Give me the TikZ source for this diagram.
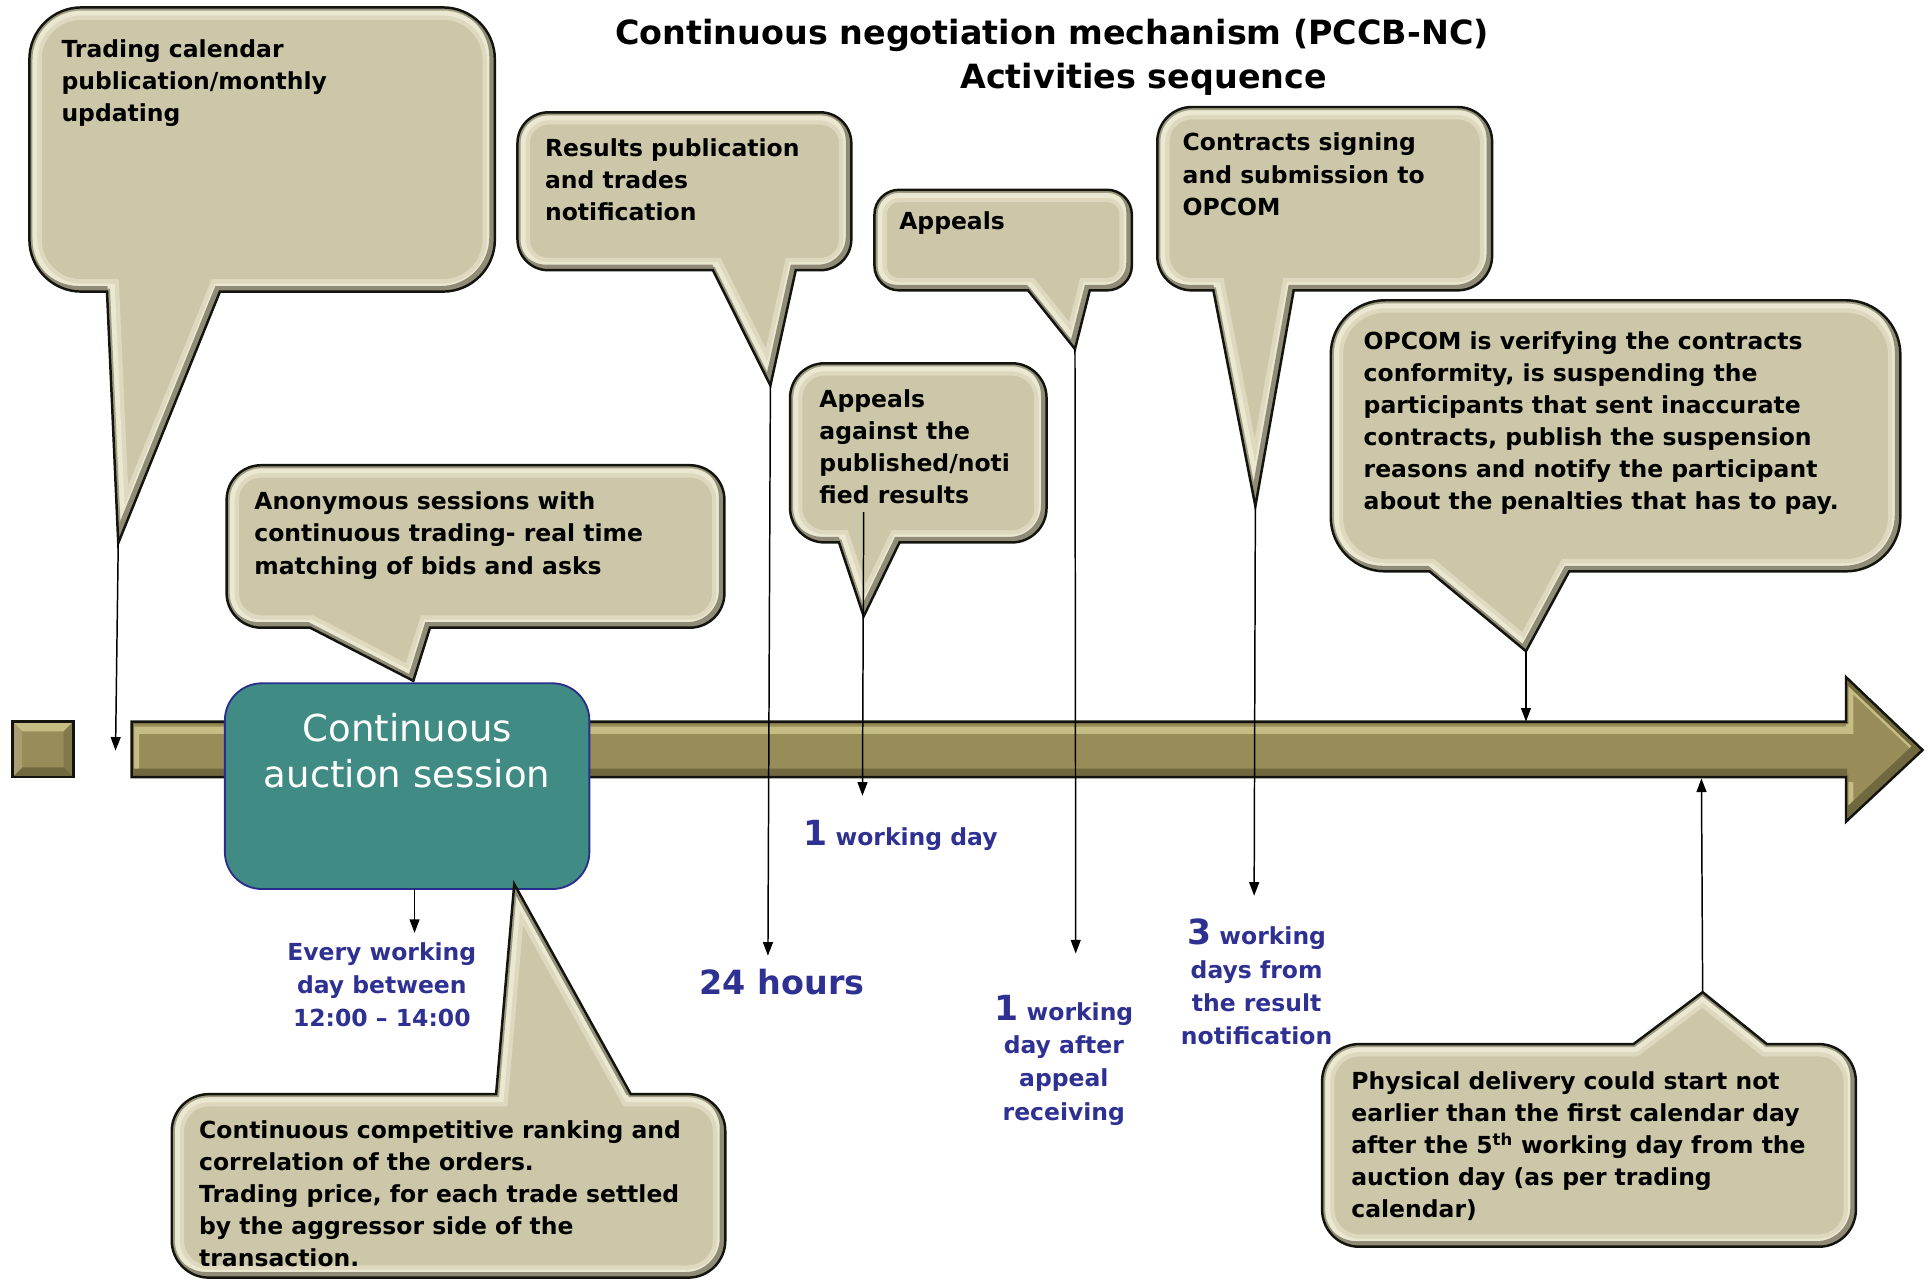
\documentclass[tikz,border=0pt]{standalone}
\usepackage{fontspec}
\setmainfont{DejaVu Sans}
\usetikzlibrary{arrows.meta}
\definecolor{bubfill}{RGB}{204,199,168}
\definecolor{bubhi}{RGB}{241,238,216}
\definecolor{bubedge}{RGB}{20,20,15}
\definecolor{olive}{RGB}{152,141,88}
\definecolor{olivehi}{RGB}{198,189,132}
\definecolor{olivesh}{RGB}{112,104,62}
\definecolor{tealbg}{RGB}{64,139,131}
\definecolor{tealedge}{RGB}{42,46,140}
\definecolor{lblue}{RGB}{46,49,146}
% bubble with pointer at the bottom
\newcommand\mkbot[9]{\expandafter\def\csname #1\endcsname{({#2+#6},#3) -- ({#4-#6},#3) .. controls ({#4-0.448*#6},#3) and (#4,{#3+0.448*#6}) .. (#4,{#3+#6}) -- (#4,{#5-#6}) .. controls (#4,{#5-0.448*#6}) and ({#4-0.448*#6},#5) .. ({#4-#6},#5) -- (#8,#5) -- (#9) -- (#7,#5) -- ({#2+#6},#5) .. controls ({#2+0.448*#6},#5) and (#2,{#5-0.448*#6}) .. (#2,{#5-#6}) -- (#2,{#3+#6}) .. controls (#2,{#3+0.448*#6}) and ({#2+0.448*#6},#3) .. ({#2+#6},#3) -- cycle}}
% bubble with pointer at the top
\newcommand\mktop[9]{\expandafter\def\csname #1\endcsname{({#2+#6},#3) -- (#7,#3) -- (#9) -- (#8,#3) -- ({#4-#6},#3) .. controls ({#4-0.448*#6},#3) and (#4,{#3+0.448*#6}) .. (#4,{#3+#6}) -- (#4,{#5-#6}) .. controls (#4,{#5-0.448*#6}) and ({#4-0.448*#6},#5) .. ({#4-#6},#5) -- ({#2+#6},#5) .. controls ({#2+0.448*#6},#5) and (#2,{#5-0.448*#6}) .. (#2,{#5-#6}) -- (#2,{#3+#6}) .. controls (#2,{#3+0.448*#6}) and ({#2+0.448*#6},#3) .. ({#2+#6},#3) -- cycle}}
\newcommand\drawbubble[1]{%
  \fill[bubfill] #1;
  \begin{scope}
    \clip #1;
    \draw[bubhi!45!bubfill, line width=20pt, line join=miter] #1;
    \draw[bubhi!85!bubfill, line width=13pt, line join=miter] #1;
    \draw[bubfill!78!black, line width=5pt, line join=miter] #1;
    \draw[bubfill!70!black, line width=5pt, line join=miter, shift={(-2,-2)}] #1;
  \end{scope}
  \draw[bubedge, line width=2pt, line join=miter] #1;}
\tikzset{
  bubtext/.style={anchor=north west, inner sep=0pt, align=left, text=black,
    font=\bfseries\fontsize{19}{26}\selectfont},
  blab/.style={inner sep=0pt, text=lblue, font=\bfseries\fontsize{19}{27}\selectfont},
  titlef/.style={inner sep=0pt, text=black, font=\bfseries\fontsize{27}{36}\selectfont},
  conn/.style={line width=1.2pt, black, -{Triangle[length=11pt,width=8pt]}},
  tealbox/.style={draw=tealedge, line width=1.5pt, fill=tealbg, rounded corners=30pt,
    minimum width=295pt, minimum height=166.5pt, inner sep=0pt}
}
\begin{document}
\begin{tikzpicture}[x=1pt,y=-1pt]
\useasboundingbox (0,0) rectangle (1562,1038.4);

% ---------- title
\node[titlef] (title1) at (851.5,28.5) {Continuous negotiation mechanism (PCCB-NC)};
\node[titlef] (title2) at (925.5,64.5) {Activities sequence};

% ---------- timeline bar
\def\barpath{(106.6,584) -- (1494,584) -- (1494,548) -- (1556,607) -- (1494,665) -- (1494,629) -- (106.6,629) -- cycle}
\fill[olive] \barpath;
\begin{scope}
  \clip \barpath;
  \draw[olivehi, line width=6pt, shift={(3,7)}] \barpath;
  \draw[olive!80!black, line width=4pt] \barpath;
  \draw[olivesh, line width=8pt, shift={(-3,-3)}] \barpath;
\end{scope}
\draw[bubedge, line width=2pt, line join=miter] \barpath;

% small square
\fill[olive] (10,584) rectangle (59.5,629);
\fill[olivehi] (10,584) -- (59.5,584) -- (51.5,592) -- (18,592) -- cycle;
\fill[olivesh] (10,629) -- (59.5,629) -- (51.5,621) -- (18,621) -- cycle;
\fill[olive!85!white] (10,584) -- (18,592) -- (18,621) -- (10,629) -- cycle;
\fill[olive!85!black] (59.5,584) -- (51.5,592) -- (51.5,621) -- (59.5,629) -- cycle;
\draw[bubedge, line width=2pt] (10,584) rectangle (59.5,629);

% ---------- callouts
\mkbot{pA}{23.8}{6}{400.5}{236}{42}{86.6}{178}{95.7,439.5}
\mkbot{pB}{418.8}{90.9}{689}{218.7}{25}{577}{644}{623.5,312}
\mkbot{pC}{707.7}{153.6}{916}{235}{20}{832}{882}{870,282.5}
\mkbot{pD}{936.6}{86.6}{1207.6}{235}{28}{982}{1047}{1016,409.7}
\mkbot{pE}{1077}{243}{1538}{462.4}{44}{1157}{1270}{1235,527}
\mkbot{pF}{639.4}{294}{847}{439}{28}{679}{728}{699,498.8}
\mkbot{pG}{183.4}{376.5}{586.3}{508}{28}{251}{348}{334.5,551}
\mktop{pH}{139}{885.5}{587}{1034}{30}{401.5}{510.5}{416.2,715.5}
\mktop{pI}{1070}{845}{1502}{1009}{30}{1322}{1430}{1378,803}

\drawbubble{\pA}
\drawbubble{\pB}
\drawbubble{\pC}
\drawbubble{\pD}
\drawbubble{\pE}
\drawbubble{\pF}
\drawbubble{\pG}

% ---------- teal session box
\node[tealbox] (cas) at (329.5,636.25) {};
\node[inner sep=0pt, text=white, align=center, font=\fontsize{30}{37}\selectfont] (castxt) at (329.5,607.5) {Continuous\\auction session};

\drawbubble{\pH}
\drawbubble{\pI}

% ---------- callout texts
\node[bubtext] (tA) at (49.6,32) {Trading calendar\\publication/monthly\\updating};
\node[bubtext] (tB) at (441,112) {Results publication\\and trades\\notification};
\node[bubtext] (tC) at (727.6,171.5) {Appeals};
\node[bubtext] (tD) at (957,107.5) {Contracts signing\\and submission to\\OPCOM};
\node[bubtext, font=\bfseries\fontsize{19}{25.8}\selectfont] (tE) at (1103.5,268.5) {OPCOM is verifying the contracts\\conformity, is suspending the\\participants that sent inaccurate\\contracts, publish the suspension\\reasons and notify the participant\\about the penalties that has to pay.};
\node[bubtext] (tF) at (663,315) {Appeals\\against the\\published/noti\\fied results};
\node[bubtext] (tG) at (205.7,398) {Anonymous sessions with\\continuous trading- real time\\matching of bids and asks};
\node[bubtext, font=\bfseries\fontsize{19}{25.9}\selectfont] (tH) at (161,907) {Continuous competitive ranking and\\correlation of the orders.\\Trading price, for each trade settled\\by the aggressor side of the\\transaction.};
\node[bubtext, font=\bfseries\fontsize{19}{25.9}\selectfont] (tI) at (1093.5,867) {Physical delivery could start not\\earlier than the first calendar day\\after the 5\textsuperscript{th} working day from the\\auction day (as per trading\\calendar)};

% ---------- blue labels
\node[blab, anchor=base west] (l1) at (650,684) {{\fontsize{28}{27}\selectfont 1} working day};
\node[blab, font=\bfseries\fontsize{27}{30}\selectfont] (l24) at (633,795) {24 hours};
\node[blab, align=center] (l3) at (309,797) {Every working\\day between\\12:00 – 14:00};
\node[blab, align=center, anchor=north] (l4) at (861,805) {{\fontsize{28}{27}\selectfont 1} working\\day after\\appeal\\receiving};
\node[blab, align=center, anchor=north] (l5) at (1017,743.6) {{\fontsize{28}{27}\selectfont 3} working\\days from\\the result\\notification};

% ---------- connector end points
\coordinate (tipA) at (95.7,439.5);
\coordinate (endA) at (93.5,607.5);
\coordinate (casbot) at (335.5,719.5);
\coordinate (endT) at (335.5,755);
\coordinate (tipB) at (623.5,312);
\coordinate (endB) at (621.5,773.5);
\coordinate (startF) at (699,414.5);
\coordinate (endF) at (698,644);
\coordinate (tipC) at (870,282.5);
\coordinate (endC) at (870.6,771.7);
\coordinate (tipD) at (1016,409.7);
\coordinate (endD) at (1015,725);
\coordinate (tipE) at (1235,527);
\coordinate (endE) at (1235,584);
\coordinate (tipI) at (1378,803);
\coordinate (endI) at (1377,630);

\draw[conn] (tipA) -- (endA);
\draw[conn] (casbot) -- (endT);
\draw[conn] (tipB) -- (endB);
\draw[conn] (startF) -- (endF);
\draw[conn] (tipC) -- (endC);
\draw[conn] (tipD) -- (endD);
\draw[conn] (tipE) -- (endE);
\draw[conn] (tipI) -- (endI);
\end{tikzpicture}
\end{document}
